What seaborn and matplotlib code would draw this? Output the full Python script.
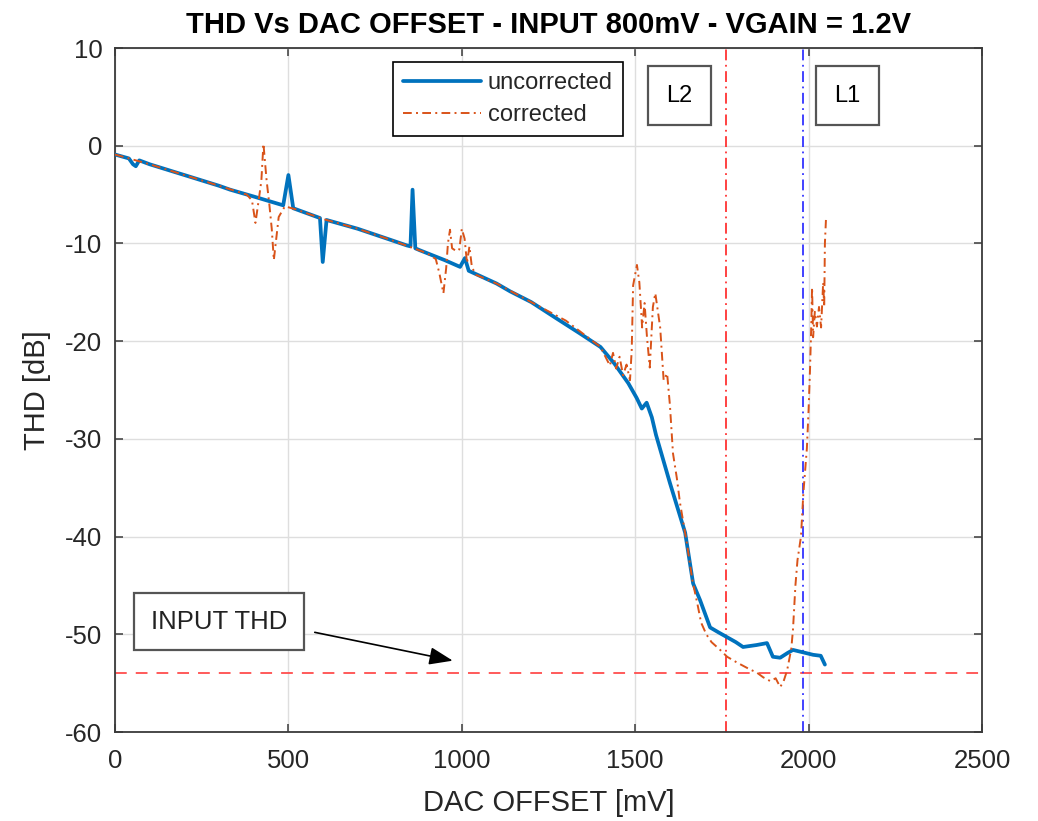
import numpy as np
import pandas as pd
import matplotlib
matplotlib.use("Agg")
import matplotlib.pyplot as plt
import seaborn as sns

# DAC offset sweep [mV] and measured THD [dB], uncorrected path
unc_x = [0, 40, 52, 60, 70, 100, 200, 300, 332, 400, 485, 500, 514, 591, 599, 610,
         700, 800, 841, 852, 858, 866, 879, 950, 995, 1009, 1020, 1100, 1139, 1200,
         1274, 1340, 1400, 1440, 1480, 1504, 1519, 1533, 1548, 1560, 1600, 1644,
         1667, 1687, 1716, 1740, 1765, 1790, 1811, 1850, 1880, 1897, 1918, 1940,
         1955, 1990, 2013, 2035, 2047]
unc_y = [-0.9, -1.3, -1.9, -2.1, -1.5, -1.9, -3.0, -4.1, -4.5, -5.2, -6.1, -3.0, -6.4,
         -7.4, -11.9, -7.6, -8.5, -9.7, -10.2, -10.3, -4.5, -10.5, -10.7, -11.7, -12.4,
         -11.5, -12.8, -14.1, -14.9, -16.0, -17.7, -19.2, -20.6, -22.3, -24.3, -25.8,
         -26.9, -26.3, -27.8, -29.6, -34.5, -39.6, -44.8, -46.5, -49.3, -49.8, -50.3,
         -50.8, -51.3, -51.1, -50.9, -52.3, -52.4, -51.9, -51.6, -51.9, -52.1, -52.2,
         -53.1]

# Same sweep with the correction applied
cor_x = [0, 100, 200, 300, 380, 395, 405, 415, 422, 428, 437, 445, 452, 458, 465, 472,
         480, 490, 520, 600, 700, 800, 900, 925, 935, 947, 955, 960, 966, 972, 985,
         993, 1000, 1008, 1015, 1022, 1029, 1040, 1100, 1200, 1300, 1400, 1427, 1436,
         1445, 1455, 1465, 1475, 1485, 1490, 1494, 1505, 1512, 1520, 1527, 1534, 1542,
         1551, 1558, 1566, 1572, 1582, 1592, 1600, 1609, 1620, 1629, 1649, 1665, 1680,
         1690, 1705, 1720, 1745, 1765, 1794, 1831, 1850, 1869, 1890, 1905, 1918, 1928,
         1938, 1950, 1955, 1962, 1968, 1978, 1985, 1995, 2000, 2004, 2008, 2010, 2013,
         2018, 2024, 2030, 2036, 2042, 2045, 2047, 2050]
cor_y = [-0.9, -1.9, -3.0, -4.1, -5.0, -5.6, -7.9, -5.4, -3.6, 0.2, -3.5, -6.0, -8.5,
         -11.7, -9.5, -7.3, -6.8, -6.2, -6.5, -7.5, -8.5, -9.7, -11.0, -11.6, -13.0,
         -15.1, -12.5, -10.0, -8.6, -10.5, -10.8, -10.6, -8.5, -9.5, -12.0, -10.3,
         -12.4, -13.2, -14.1, -16.0, -17.9, -20.6, -22.5, -21.2, -22.8, -21.6, -23.5,
         -22.4, -24.0, -20.9, -14.3, -12.2, -14.0, -18.6, -16.1, -19.6, -22.7, -16.5,
         -15.1, -17.1, -18.6, -24.0, -23.3, -26.5, -31.5, -34.0, -36.5, -40.7, -44.5,
         -47.0, -48.8, -50.0, -50.8, -51.6, -52.3, -52.9, -53.6, -53.9, -54.4, -54.8,
         -54.5, -55.4, -54.8, -53.7, -51.5, -49.5, -45.0, -42.4, -40.0, -35.5, -31.0,
         -27.0, -23.0, -18.0, -14.5, -19.6, -17.0, -18.5, -16.5, -18.6, -14.0, -16.5,
         -10.0, -7.6]

# Reference levels
input_thd = -54.0
l2_offset = 1761
l1_offset = 1985

x_ticks = [0, 500, 1000, 1500, 2000, 2500]
y_ticks = [-60, -50, -40, -30, -20, -10, 0, 10]

sns.set_theme(style="whitegrid")
plt.rcParams["font.family"] = ["Liberation Sans", "DejaVu Sans"]
plt.rcParams["axes.unicode_minus"] = False

ink = "#262626"
blue = "#0072BD"
orange = "#D95319"
dashdot = (0, (4.5, 2.2, 1.0, 2.2))

fig = plt.figure(figsize=(10.38, 8.21), dpi=100)
ax = fig.add_axes([115 / 1038, 1 - 732 / 821, (982 - 115) / 1038, (732 - 48) / 821])
ax.set_facecolor("white")

df_unc = pd.DataFrame({"offset": unc_x, "thd": unc_y})
df_cor = pd.DataFrame({"offset": cor_x, "thd": cor_y})

sns.lineplot(data=df_unc, x="offset", y="thd", ax=ax, color=blue, lw=2.7,
             sort=False, estimator=None, label="uncorrected", zorder=3)
sns.lineplot(data=df_cor, x="offset", y="thd", ax=ax, color=orange, lw=1.4,
             sort=False, estimator=None, label="corrected", zorder=4)
ax.lines[1].set_linestyle(dashdot)

ax.axhline(input_thd, color="#FF4D4D", lw=1.3, ls=(0, (6.5, 5)), zorder=2)
ax.axvline(l2_offset, color="#FF3333", lw=1.3, ls=(0, (6, 2.5, 1, 2.5)), zorder=2)
ax.axvline(l1_offset, color="#3333FF", lw=1.3, ls=(0, (6, 2.5, 1, 2.5)), zorder=2)

ax.set_xlim(0, 2500)
ax.set_ylim(-60, 10)
ax.set_xticks(x_ticks)
ax.set_yticks(y_ticks)
ax.grid(True, color="#DEDEDE", lw=1.0)

for s in ax.spines.values():
    s.set_visible(True)
    s.set_color("#3A3A3A")
    s.set_linewidth(1.3)
ax.tick_params(axis="both", which="major", direction="in", length=6, width=1.1,
               color="#3A3A3A", labelsize=18.5, labelcolor=ink,
               top=True, right=True, bottom=True, left=True)
ax.tick_params(axis="x", pad=12)
ax.tick_params(axis="y", pad=9)

ax.set_xlabel("DAC OFFSET [mV]", fontsize=21, color=ink, labelpad=12)
ax.set_ylabel("THD [dB]", fontsize=21, color=ink, labelpad=10)
ax.set_title("THD Vs DAC OFFSET - INPUT 800mV - VGAIN = 1.2V", fontsize=21,
             fontweight="bold", color="black", pad=11)

leg = ax.legend(loc="upper left", bbox_to_anchor=(0.3206, 0.9795), fontsize=17,
                frameon=True, fancybox=False, framealpha=1, edgecolor="black",
                handlelength=3.3, handletextpad=0.3, labelspacing=0.42,
                borderpad=0.42, borderaxespad=0)
leg.get_frame().set_linewidth(1.2)
leg.get_lines()[1].set_linestyle(dashdot)

box_style = dict(boxstyle="square,pad=0.78", facecolor="white", edgecolor="#555555", lw=1.6)
ax.text(1628, 5.1, "L2", fontsize=17, color="black", ha="center", va="center",
        bbox=box_style, zorder=6)
ax.text(2111, 5.1, "L1", fontsize=17, color="black", ha="center", va="center",
        bbox=box_style, zorder=6)

ax.text(301, -48.7, "INPUT THD", fontsize=18.5, color="#222222", ha="center",
        va="center", bbox=dict(boxstyle="square,pad=0.65", facecolor="white",
                               edgecolor="#555555", lw=1.6), zorder=6)
ax.annotate("", xy=(974, -52.7), xytext=(576, -49.8),
            arrowprops=dict(arrowstyle="-|>,head_length=1.2,head_width=0.45",
                            color="black", lw=1.2, shrinkA=0, shrinkB=0), zorder=6)

fig.savefig("out.png", dpi=100, facecolor="white")
